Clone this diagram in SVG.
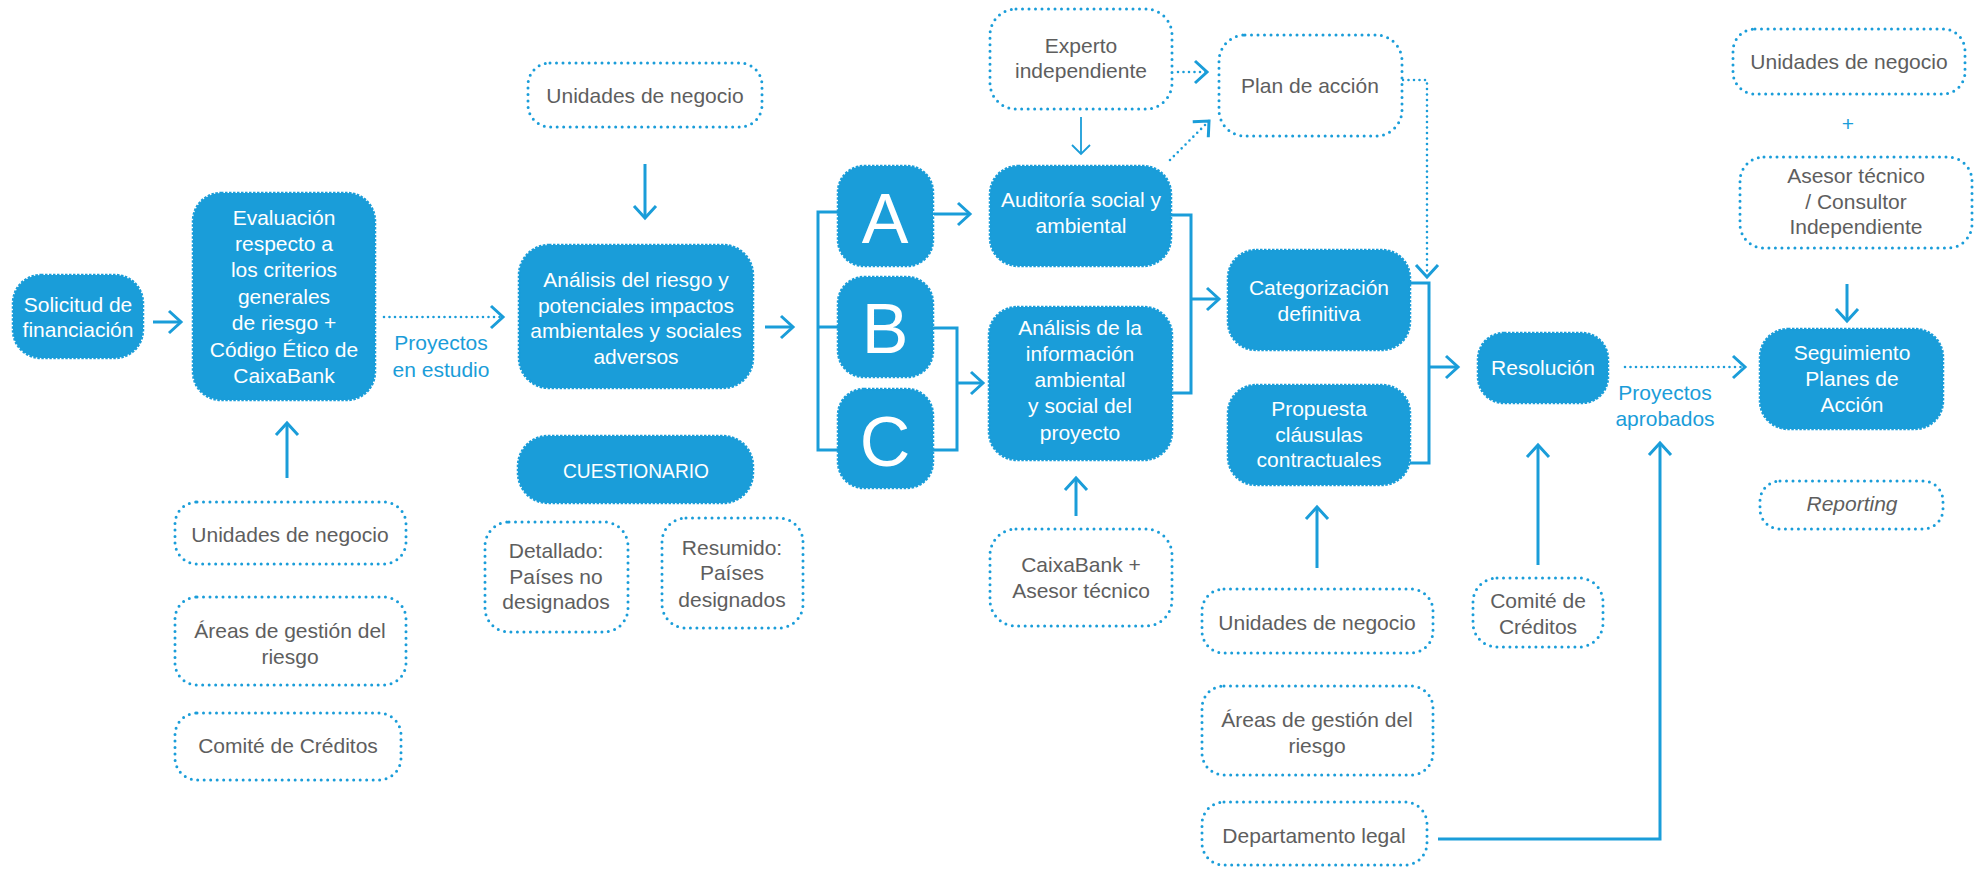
<svg xmlns="http://www.w3.org/2000/svg" width="1982" height="869" viewBox="0 0 1982 869">
<defs>
<style>
.f{fill:#1a9dd9;stroke:#1a9dd9;stroke-width:2.5;stroke-dasharray:2.5 1.5}
.o{fill:#ffffff;stroke:#1a9dd9;stroke-width:3;stroke-dasharray:0 6.5;stroke-linecap:round}
.tw{font-family:"Liberation Sans",Arial,sans-serif;font-size:21px;fill:#ffffff;text-anchor:middle}
.tg{font-family:"Liberation Sans",Arial,sans-serif;font-size:21px;fill:#5e5e5e;text-anchor:middle}
.tb{font-family:"Liberation Sans",Arial,sans-serif;font-size:21px;fill:#1a9dd9;text-anchor:middle}
.big{font-family:"Liberation Sans",Arial,sans-serif;font-size:70px;fill:#ffffff;text-anchor:middle}
.c{fill:none;stroke:#1a9dd9;stroke-width:3}
.ca{fill:none;stroke:#1a9dd9;stroke-width:3;marker-end:url(#arr)}
.cd{fill:none;stroke:#1a9dd9;stroke-width:2.6;stroke-dasharray:0 5.5;stroke-linecap:round;marker-end:url(#arr)}
.ct{fill:none;stroke:#1a9dd9;stroke-width:1.8;marker-end:url(#arrs)}
</style>
<marker id="arr" markerUnits="userSpaceOnUse" markerWidth="30" markerHeight="30" refX="13" refY="12" orient="auto" overflow="visible">
<path d="M1,1 L13,12 L1,23" fill="none" stroke="#1a9dd9" stroke-width="3"/>
</marker>
<marker id="arrs" markerUnits="userSpaceOnUse" markerWidth="30" markerHeight="30" refX="10" refY="10" orient="auto" overflow="visible">
<path d="M1,1 L10,10 L1,19" fill="none" stroke="#1a9dd9" stroke-width="1.8"/>
</marker>
</defs>

<g id="connectors">
<line class="ca" x1="153" y1="322" x2="181" y2="322"/>
<line class="cd" x1="384" y1="317" x2="503" y2="317"/>
<line class="ca" x1="287" y1="478" x2="287" y2="423"/>
<line class="ca" x1="645" y1="164" x2="645" y2="218"/>
<line class="ca" x1="765" y1="327" x2="793" y2="327"/>
<path class="c" d="M838,212 H818 V450 H838 M818,327 H838"/>
<line class="ca" x1="934" y1="214" x2="970" y2="214"/>
<path class="c" d="M933,328 H957 V450 H933"/>
<line class="ca" x1="957" y1="383" x2="983" y2="383"/>
<line class="ct" x1="1081" y1="117" x2="1081" y2="154"/>
<line class="cd" x1="1178" y1="72" x2="1207" y2="72"/>
<line class="cd" x1="1170" y1="160" x2="1209" y2="121"/>
<path class="cd" d="M1403,80 H1427 V277"/>
<path class="c" d="M1171,215 H1191 V393 H1172"/>
<line class="ca" x1="1191" y1="299" x2="1219" y2="299"/>
<path class="c" d="M1410,283 H1429 V463 H1410"/>
<line class="ca" x1="1429" y1="367" x2="1458" y2="367"/>
<line class="cd" x1="1625" y1="367" x2="1745" y2="367"/>
<line class="ca" x1="1076" y1="516" x2="1076" y2="478"/>
<line class="ca" x1="1317" y1="568" x2="1317" y2="507"/>
<line class="ca" x1="1538" y1="565" x2="1538" y2="445"/>
<path class="ca" d="M1438,839 H1660 V443"/>
<line class="ca" x1="1847" y1="284" x2="1847" y2="321"/>
</g>

<g id="n-solicitud"><rect class="f" x="13" y="275" width="130" height="83" rx="28"/>
<text class="tw" x="78" y="312">Solicitud de</text><text class="tw" x="78" y="337">financiación</text></g>

<g id="n-evaluacion"><rect class="f" x="193" y="193" width="182" height="207" rx="28"/>
<text class="tw" x="284" y="225">Evaluación</text>
<text class="tw" x="284" y="251">respecto a</text>
<text class="tw" x="284" y="277">los criterios</text>
<text class="tw" x="284" y="304">generales</text>
<text class="tw" x="284" y="330">de riesgo +</text>
<text class="tw" x="284" y="357">Código Ético de</text>
<text class="tw" x="284" y="383">CaixaBank</text></g>

<g id="n-unidades-1"><rect class="o" x="175" y="502" width="231" height="62" rx="22"/>
<text class="tg" x="290" y="542">Unidades de negocio</text></g>
<g id="n-areas-1"><rect class="o" x="175" y="597" width="231" height="88" rx="22"/>
<text class="tg" x="290" y="638">Áreas de gestión del</text><text class="tg" x="290" y="664">riesgo</text></g>
<g id="n-comite-1"><rect class="o" x="175" y="713" width="226" height="67" rx="22"/>
<text class="tg" x="288" y="753">Comité de Créditos</text></g>

<g id="l-estudio"><text class="tb" x="441" y="350">Proyectos</text><text class="tb" x="441" y="377">en estudio</text></g>

<g id="n-unidades-2"><rect class="o" x="528" y="63" width="234" height="64" rx="22"/>
<text class="tg" x="645" y="103">Unidades de negocio</text></g>
<g id="n-analisis"><rect class="f" x="519" y="245" width="234" height="143" rx="30"/>
<text class="tw" x="636" y="287">Análisis del riesgo y</text>
<text class="tw" x="636" y="313">potenciales impactos</text>
<text class="tw" x="636" y="338">ambientales y sociales</text>
<text class="tw" x="636" y="364">adversos</text></g>
<g id="n-cuestionario"><rect class="f" x="518" y="436" width="235" height="67" rx="30"/>
<text class="tw" x="636" y="478" textLength="146" lengthAdjust="spacingAndGlyphs">CUESTIONARIO</text></g>
<g id="n-detallado"><rect class="o" x="485" y="522" width="143" height="110" rx="24"/>
<text class="tg" x="556" y="558">Detallado:</text><text class="tg" x="556" y="584">Países no</text><text class="tg" x="556" y="609">designados</text></g>
<g id="n-resumido"><rect class="o" x="662" y="518" width="141" height="110" rx="24"/>
<text class="tg" x="732" y="555">Resumido:</text><text class="tg" x="732" y="580">Países</text><text class="tg" x="732" y="607">designados</text></g>

<g id="n-a"><rect class="f" x="838" y="166" width="95" height="100" rx="26"/><text class="big" x="885" y="243">A</text></g>
<g id="n-b"><rect class="f" x="838" y="277" width="95" height="100" rx="26"/><text class="big" x="885" y="353">B</text></g>
<g id="n-c"><rect class="f" x="838" y="389" width="95" height="99" rx="26"/><text class="big" x="885" y="466">C</text></g>

<g id="n-experto"><rect class="o" x="990" y="9" width="182" height="100" rx="26"/>
<text class="tg" x="1081" y="53">Experto</text><text class="tg" x="1081" y="78">independiente</text></g>
<g id="n-plan"><rect class="o" x="1219" y="35" width="183" height="101" rx="26"/>
<text class="tg" x="1310" y="93">Plan de acción</text></g>
<g id="n-auditoria"><rect class="f" x="990" y="166" width="181" height="100" rx="28"/>
<text class="tw" x="1081" y="207">Auditoría social y</text><text class="tw" x="1081" y="233">ambiental</text></g>
<g id="n-analisis-info"><rect class="f" x="989" y="307" width="183" height="153" rx="28"/>
<text class="tw" x="1080" y="335">Análisis de la</text>
<text class="tw" x="1080" y="361">información</text>
<text class="tw" x="1080" y="387">ambiental</text>
<text class="tw" x="1080" y="413">y social del</text>
<text class="tw" x="1080" y="440">proyecto</text></g>
<g id="n-caixabank"><rect class="o" x="990" y="529" width="182" height="97" rx="26"/>
<text class="tg" x="1081" y="572">CaixaBank +</text><text class="tg" x="1081" y="598">Asesor técnico</text></g>

<g id="n-categorizacion"><rect class="f" x="1228" y="250" width="182" height="100" rx="28"/>
<text class="tw" x="1319" y="295">Categorización</text><text class="tw" x="1319" y="321">definitiva</text></g>
<g id="n-propuesta"><rect class="f" x="1228" y="385" width="182" height="100" rx="28"/>
<text class="tw" x="1319" y="416">Propuesta</text><text class="tw" x="1319" y="442">cláusulas</text><text class="tw" x="1319" y="467">contractuales</text></g>
<g id="n-unidades-3"><rect class="o" x="1202" y="589" width="231" height="64" rx="22"/>
<text class="tg" x="1317" y="630">Unidades de negocio</text></g>
<g id="n-areas-3"><rect class="o" x="1202" y="686" width="231" height="89" rx="22"/>
<text class="tg" x="1317" y="727">Áreas de gestión del</text><text class="tg" x="1317" y="753">riesgo</text></g>
<g id="n-departamento"><rect class="o" x="1202" y="802" width="225" height="63" rx="22"/>
<text class="tg" x="1314" y="843">Departamento legal</text></g>

<g id="n-resolucion"><rect class="f" x="1478" y="333" width="130" height="70" rx="26"/>
<text class="tw" x="1543" y="375">Resolución</text></g>
<g id="n-comite-2"><rect class="o" x="1473" y="578" width="130" height="69" rx="24"/>
<text class="tg" x="1538" y="608">Comité de</text><text class="tg" x="1538" y="634">Créditos</text></g>

<g id="l-aprobados"><text class="tb" x="1665" y="400">Proyectos</text><text class="tb" x="1665" y="426">aprobados</text></g>

<g id="n-unidades-4"><rect class="o" x="1733" y="29" width="232" height="65" rx="22"/>
<text class="tg" x="1849" y="69">Unidades de negocio</text></g>
<g id="l-plus"><text class="tb" x="1848" y="131">+</text></g>
<g id="n-asesor"><rect class="o" x="1740" y="157" width="232" height="91" rx="24"/>
<text class="tg" x="1856" y="183">Asesor técnico</text><text class="tg" x="1856" y="209">/ Consultor</text><text class="tg" x="1856" y="234">Independiente</text></g>
<g id="n-seguimiento"><rect class="f" x="1760" y="329" width="183" height="100" rx="28"/>
<text class="tw" x="1852" y="360">Seguimiento</text><text class="tw" x="1852" y="386">Planes de</text><text class="tw" x="1852" y="412">Acción</text></g>
<g id="n-reporting"><rect class="o" x="1760" y="481" width="183" height="48" rx="20"/>
<text class="tg" x="1852" y="511" font-style="italic">Reporting</text></g>
</svg>
